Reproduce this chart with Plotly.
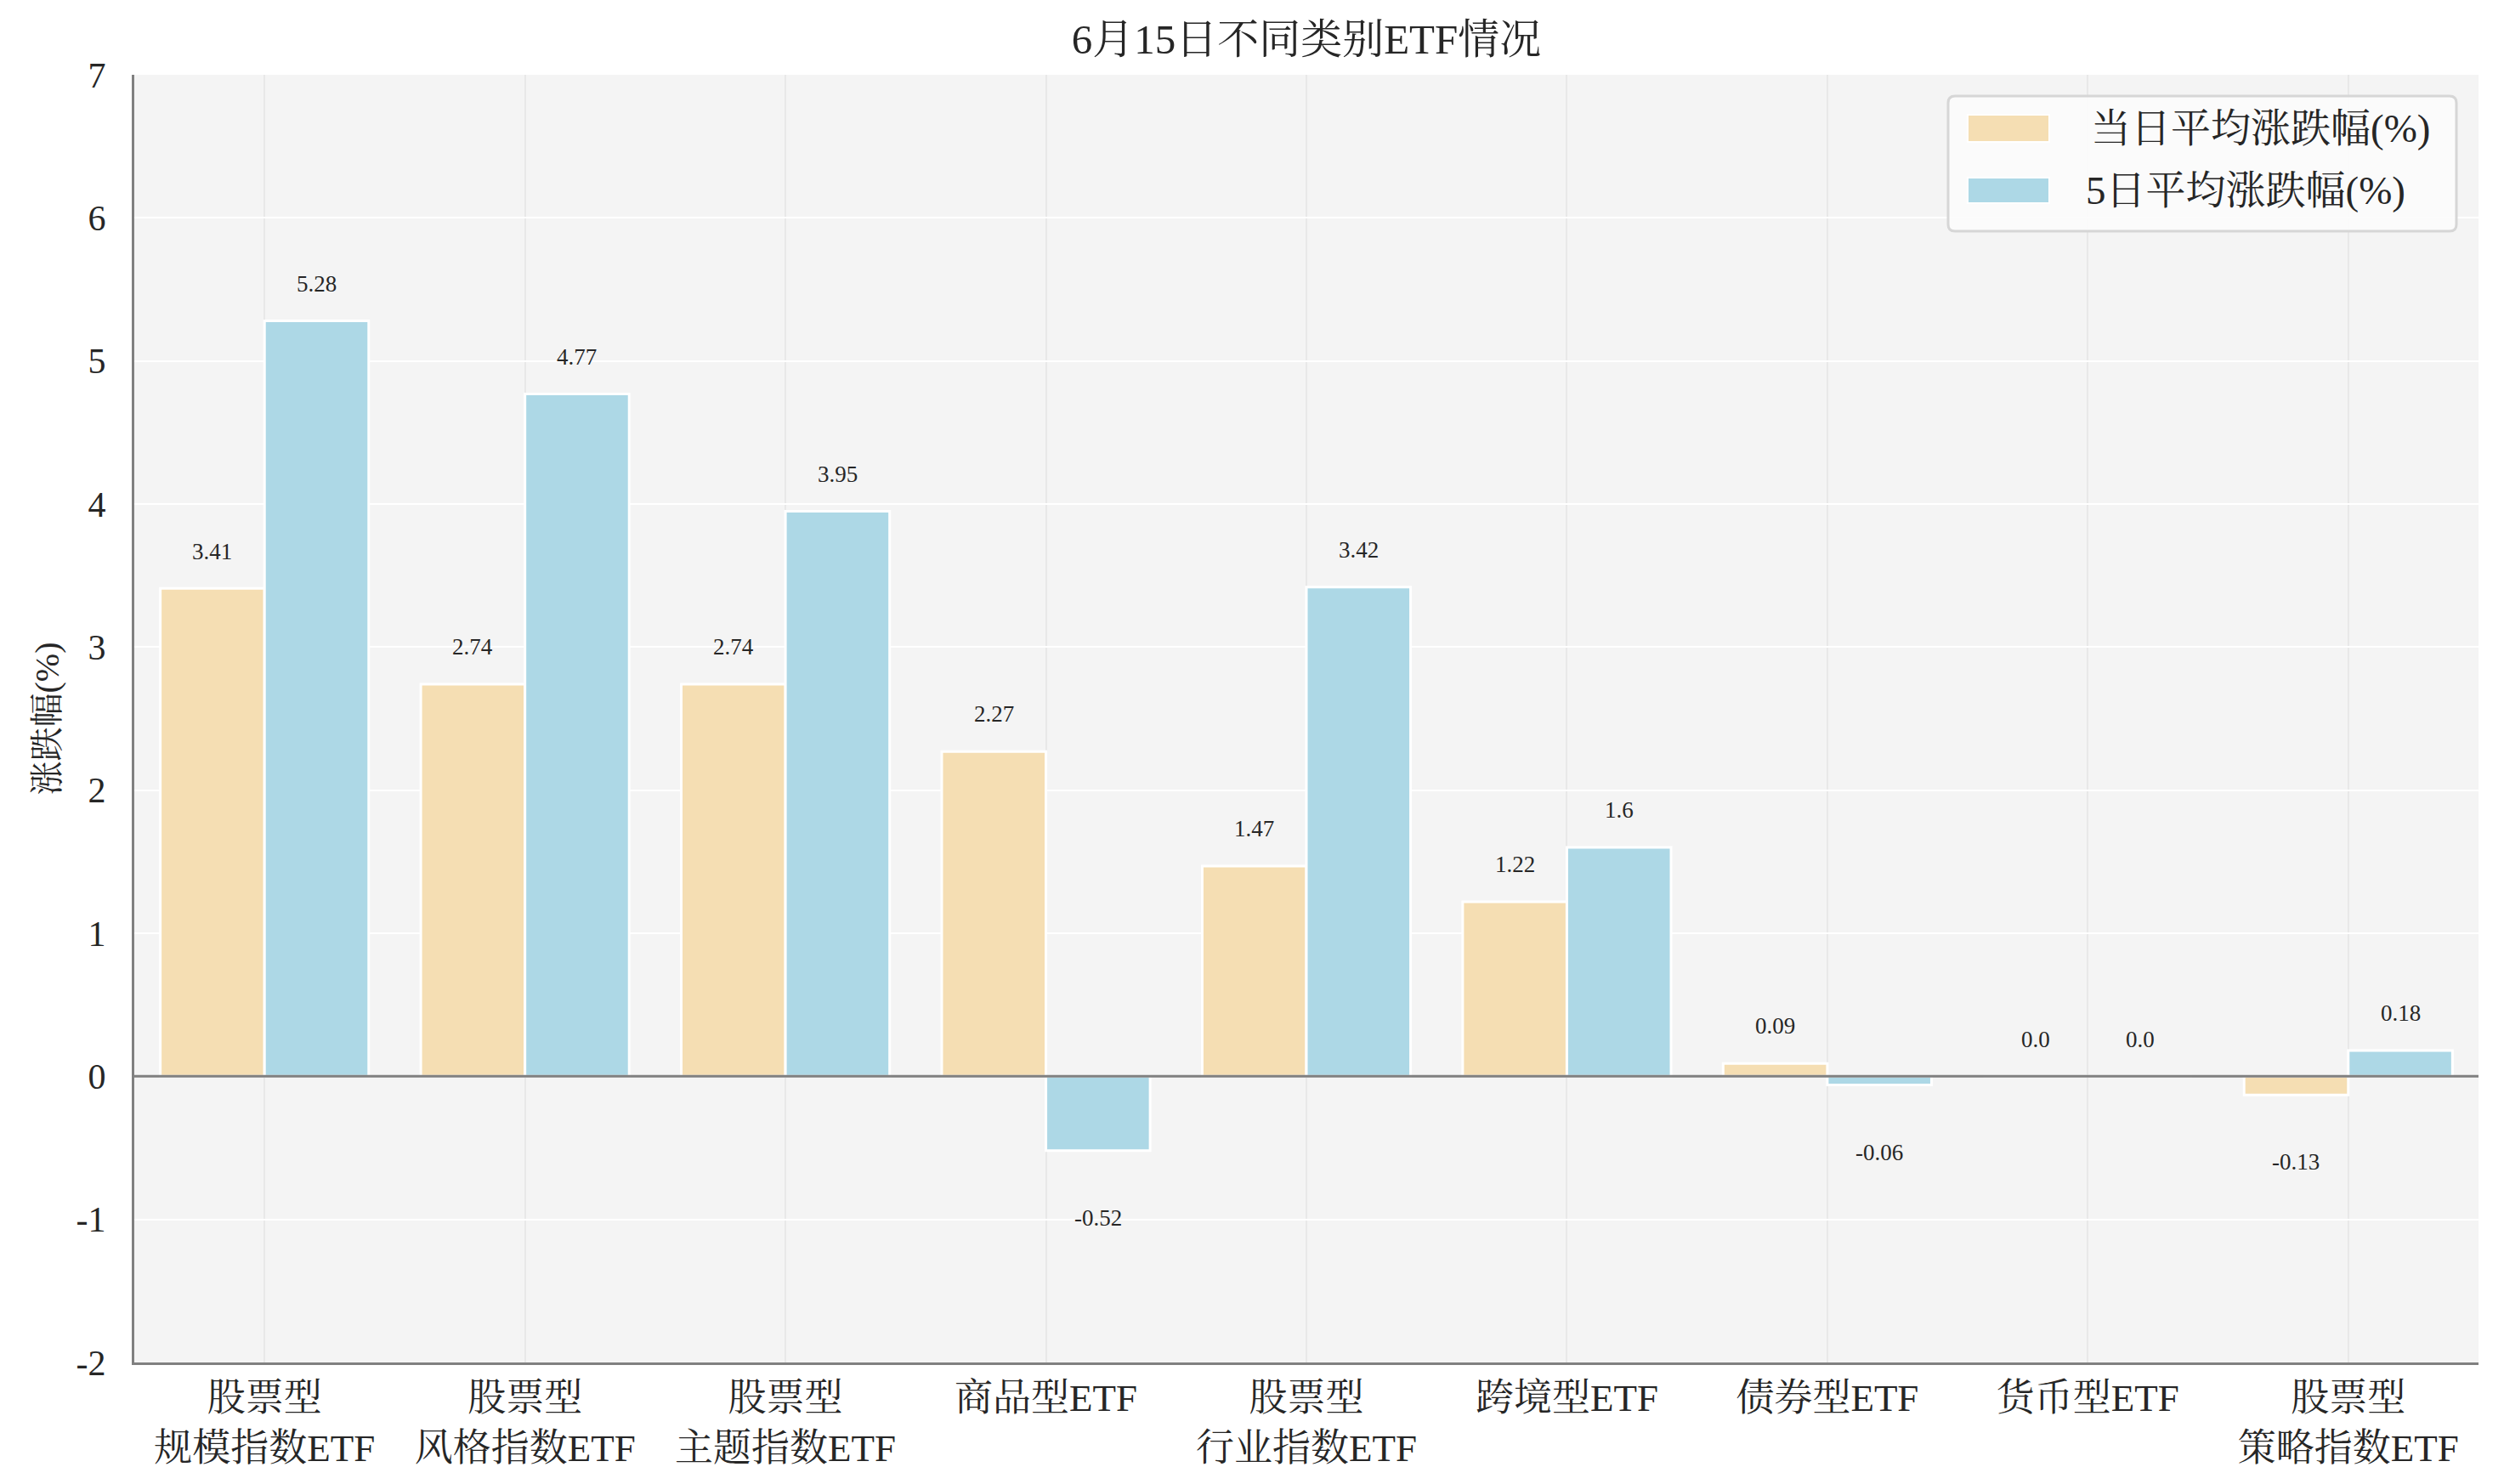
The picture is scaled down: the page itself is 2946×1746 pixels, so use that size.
import plotly.graph_objects as go

categories = ["股票型<br>规模指数ETF", "股票型<br>风格指数ETF", "股票型<br>主题指数ETF", "商品型ETF",
              "股票型<br>行业指数ETF", "跨境型ETF", "债券型ETF", "货币型ETF", "股票型<br>策略指数ETF"]
day_change = [3.41, 2.74, 2.74, 2.27, 1.47, 1.22, 0.09, 0.0, -0.13]
five_day_change = [5.28, 4.77, 3.95, -0.52, 3.42, 1.6, -0.06, 0.0, 0.18]
series_names = ["当日平均涨跌幅(%)", "5日平均涨跌幅(%)"]
series_colors = ["#F5DEB3", "#ADD8E6"]
y_ticks = [-2, -1, 0, 1, 2, 3, 4, 5, 6, 7]

FONT = "Liberation Serif, Noto Serif CJK SC, Noto Sans CJK SC, serif"
TXT = "#262626"
W, H = 2946, 1746
L, R, T, B = 158, 30, 88, 143
PW, PH = W - L - R, H - T - B
idx = list(range(len(categories)))


def px(X):
    return (X - L) / PW


def py(Y):
    return (H - B - Y) / PH


def rounded_box(x0, y0, x1, y1, r):
    # pixel coords -> paper coords path with rounded corners
    pts = []
    rx, ry = r / PW, r / PH
    a0, a1, b0, b1 = px(x0), px(x1), py(y1), py(y0)
    return (f"M {a0 + rx} {b0} L {a1 - rx} {b0} Q {a1} {b0} {a1} {b0 + ry} "
            f"L {a1} {b1 - ry} Q {a1} {b1} {a1 - rx} {b1} L {a0 + rx} {b1} Q {a0} {b1} {a0} {b1 - ry} "
            f"L {a0} {b0 + ry} Q {a0} {b0} {a0 + rx} {b0} Z")


fig = go.Figure()
for name, vals, col, g in zip(series_names, (day_change, five_day_change), series_colors, (0, 1)):
    fig.add_trace(go.Bar(x=idx, y=vals, name=name, marker_color=col, marker_line_color="white",
                         marker_line_width=3, offsetgroup=g, showlegend=False))

annotations = []
for vals, dx in ((day_change, -0.2), (five_day_change, 0.2)):
    for i, v in zip(idx, vals):
        yy = v + 0.26 if v >= 0 else v - 0.47
        annotations.append(dict(x=i + dx, y=yy, xref="x", yref="y", text=str(v), showarrow=False,
                                font=dict(family=FONT, size=27, color=TXT), yanchor="middle"))

shapes = [dict(type="line", xref="paper", yref="y", x0=0, x1=1, y0=0, y1=0,
               line=dict(color="#808080", width=3), layer="above")]

# custom legend (box, swatches, labels)
shapes.append(dict(type="path", xref="paper", yref="paper", path=rounded_box(2292, 113, 2890, 272, 8),
                   line=dict(color="#D6D6D6", width=3), fillcolor="rgba(252,252,252,0.9)", layer="above"))
for k, (name, col, (y0, y1), tx) in enumerate(zip(series_names, series_colors,
                                                  ((135, 167), (209, 239)), (2458, 2452))):
    shapes.append(dict(type="rect", xref="paper", yref="paper", x0=px(2315), x1=px(2411),
                       y0=py(y1), y1=py(y0), line=dict(color="white", width=2), fillcolor=col, layer="above"))
    annotations.append(dict(x=px(tx), y=py((y0 + y1) / 2), xref="paper", yref="paper", text=name,
                            showarrow=False, xanchor="left", yanchor="middle",
                            font=dict(family=FONT, size=47, color=TXT)))

fig.update_layout(
    width=W, height=H,
    margin=dict(l=L, r=R, t=T, b=B),
    paper_bgcolor="white", plot_bgcolor="#F4F4F4",
    barmode="group", bargap=0.2, bargroupgap=0,
    title=dict(text="6月15日不同类别ETF情况", x=0.5, xref="paper", xanchor="center",
               y=1 - 46 / H, yanchor="middle", font=dict(family=FONT, size=49, color=TXT)),
    font=dict(family=FONT, color=TXT),
    annotations=annotations,
    shapes=shapes,
    showlegend=False,
)
fig.update_xaxes(range=[-0.5, len(categories) - 0.5], tickmode="array", tickvals=idx, ticktext=categories,
                 showgrid=True, gridcolor="#E8E8E8", gridwidth=2, showline=True, linecolor="#808080",
                 linewidth=3, ticks="", tickfont=dict(family=FONT, size=45, color=TXT), zeroline=False)
fig.update_yaxes(range=[-2, 7], tickmode="array", tickvals=y_ticks, ticktext=[str(t) for t in y_ticks],
                 showgrid=True, gridcolor="white", gridwidth=2, showline=True, linecolor="#808080",
                 linewidth=3, ticks="", ticklabelstandoff=22, tickfont=dict(family=FONT, size=42, color=TXT),
                 zeroline=False,
                 title=dict(text="涨跌幅(%)", font=dict(family=FONT, size=40, color=TXT), standoff=8))

fig.write_html("out.html")
